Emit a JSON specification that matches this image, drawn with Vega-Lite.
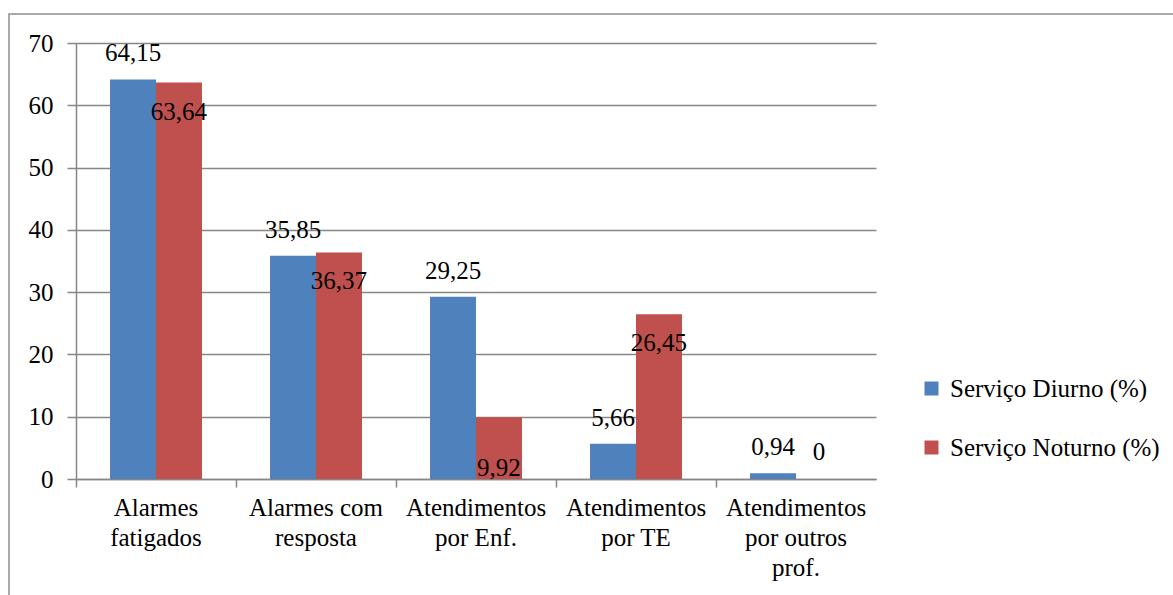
{
  "$schema": "https://vega.github.io/schema/vega-lite/v6.json",
  "width": 1170,
  "height": 600,
  "autosize": {"type": "none"},
  "padding": {"left": 9, "top": 14, "right": 0, "bottom": 0},
  "config": {
    "view": {"stroke": "#8e8e8e", "strokeWidth": 1.5},
    "font": "'Liberation Serif', serif",
    "text": {"font": "'Liberation Serif', serif"},
    "axis": {"labelFont": "'Liberation Serif', serif"},
    "legend": {"labelFont": "'Liberation Serif', serif"}
  },
  "data": {
    "values": [
      {"categoria": "Alarmes fatigados", "serie": "Serviço Diurno (%)", "valor": 64.15, "rotulo": "64,15"},
      {"categoria": "Alarmes fatigados", "serie": "Serviço Noturno (%)", "valor": 63.64, "rotulo": "63,64"},
      {"categoria": "Alarmes com resposta", "serie": "Serviço Diurno (%)", "valor": 35.85, "rotulo": "35,85"},
      {"categoria": "Alarmes com resposta", "serie": "Serviço Noturno (%)", "valor": 36.37, "rotulo": "36,37"},
      {"categoria": "Atendimentos por Enf.", "serie": "Serviço Diurno (%)", "valor": 29.25, "rotulo": "29,25"},
      {"categoria": "Atendimentos por Enf.", "serie": "Serviço Noturno (%)", "valor": 9.92, "rotulo": "9,92"},
      {"categoria": "Atendimentos por TE", "serie": "Serviço Diurno (%)", "valor": 5.66, "rotulo": "5,66"},
      {"categoria": "Atendimentos por TE", "serie": "Serviço Noturno (%)", "valor": 26.45, "rotulo": "26,45"},
      {"categoria": "Atendimentos por outros prof.", "serie": "Serviço Diurno (%)", "valor": 0.94, "rotulo": "0,94"},
      {"categoria": "Atendimentos por outros prof.", "serie": "Serviço Noturno (%)", "valor": 0, "rotulo": "0"}
    ]
  },
  "encoding": {
    "x": {
      "field": "categoria",
      "type": "nominal",
      "sort": null,
      "title": null,
      "scale": {"range": [67, 867], "paddingInner": 0, "paddingOuter": 0},
      "axis": {
        "offset": -135,
        "labelAngle": 0,
        "bandPosition": 0,
        "tickSize": 8,
        "tickColor": "#868686",
        "tickWidth": 1.5,
        "domainColor": "#868686",
        "domainWidth": 1.5,
        "labelFont": "'Liberation Serif', serif",
        "labelFontSize": 25,
        "labelColor": "black",
        "labelBaseline": "top",
        "labelPadding": 8,
        "labelLineHeight": 30,
        "labelLimit": 0,
        "labelExpr": "datum.label == 'Alarmes fatigados' ? ['Alarmes', 'fatigados'] : datum.label == 'Alarmes com resposta' ? ['Alarmes com', 'resposta'] : datum.label == 'Atendimentos por Enf.' ? ['Atendimentos', 'por Enf.'] : datum.label == 'Atendimentos por TE' ? ['Atendimentos', 'por TE'] : ['Atendimentos', 'por outros', 'prof.']"
      }
    },
    "xOffset": {
      "field": "serie",
      "type": "nominal",
      "scale": {"paddingInner": 0, "paddingOuter": 0.74}
    },
    "y": {
      "field": "valor",
      "type": "quantitative",
      "title": null,
      "scale": {"domain": [0, 70], "range": [465, 29], "nice": false, "zero": true},
      "axis": {
        "offset": -67,
        "values": [0, 10, 20, 30, 40, 50, 60, 70],
        "grid": true,
        "gridColor": "#868686",
        "gridWidth": 1.5,
        "gridOpacity": 1,
        "domainColor": "#868686",
        "domainWidth": 1.5,
        "tickColor": "#868686",
        "tickWidth": 1.5,
        "tickSize": 9,
        "labelFont": "'Liberation Serif', serif",
        "labelFontSize": 25,
        "labelColor": "black",
        "labelPadding": 14
      }
    }
  },
  "layer": [
    {
      "mark": {"type": "bar"},
      "encoding": {
        "color": {
          "field": "serie",
          "type": "nominal",
          "scale": {"range": ["#4F81BD", "#C0504D"]},
          "legend": {
            "title": null,
            "orient": "none",
            "legendX": 910,
            "legendY": 362,
            "symbolType": "square",
            "symbolSize": 196,
            "symbolStrokeWidth": 0,
            "labelFont": "'Liberation Serif', serif",
            "labelFontSize": 25,
            "labelColor": "black",
            "labelOffset": 6,
            "labelLimit": 0,
            "rowPadding": 33
          }
        }
      }
    },
    {
      "transform": [{"filter": "datum.serie == 'Serviço Diurno (%)'"}],
      "mark": {"type": "text", "baseline": "middle", "dy": -26, "fontSize": 25, "font": "'Liberation Serif', serif", "color": "black"},
      "encoding": {"text": {"field": "rotulo"}}
    },
    {
      "transform": [{"filter": "datum.serie == 'Serviço Noturno (%)' && datum.valor > 20"}],
      "mark": {"type": "text", "baseline": "middle", "dy": 29, "fontSize": 25, "font": "'Liberation Serif', serif", "color": "black"},
      "encoding": {"text": {"field": "rotulo"}}
    },
    {
      "transform": [{"filter": "datum.serie == 'Serviço Noturno (%)' && datum.categoria == 'Atendimentos por Enf.'"}],
      "mark": {"type": "text", "baseline": "middle", "dy": 51, "fontSize": 25, "font": "'Liberation Serif', serif", "color": "black"},
      "encoding": {"text": {"field": "rotulo"}}
    },
    {
      "transform": [{"filter": "datum.serie == 'Serviço Noturno (%)' && datum.valor == 0"}],
      "mark": {"type": "text", "baseline": "middle", "dy": -27, "fontSize": 25, "font": "'Liberation Serif', serif", "color": "black"},
      "encoding": {"text": {"field": "rotulo"}}
    }
  ]
}
